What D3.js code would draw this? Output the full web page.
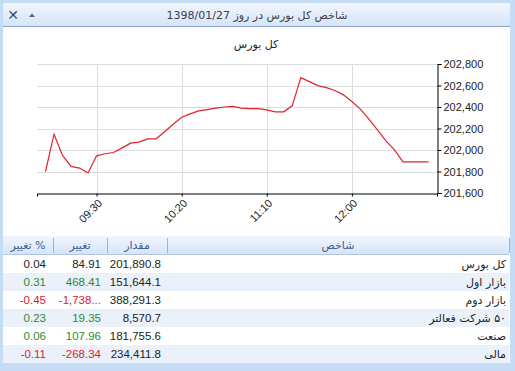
<!DOCTYPE html>
<html>
<head>
<meta charset="utf-8">
<script src="https://cdn.jsdelivr.net/npm/d3@7"></script>
<style>
  body { margin: 0; background: #c6dbf4; }
  svg { display: block; font-family: "Liberation Sans", "DejaVu Sans", sans-serif; }
</style>
</head>
<body>
<svg id="chart" width="515" height="371"></svg>
<script>
// window title and chart title
const windowTitle = "شاخص کل بورس در روز 1398/01/27";
const chartTitle = "کل بورس";

// index values every 5 minutes, 09:00 .. 12:45
const times = ["09:00","09:05","09:10","09:15","09:20","09:25","09:30","09:35","09:40","09:45",
  "09:50","09:55","10:00","10:05","10:10","10:15","10:20","10:25","10:30","10:35",
  "10:40","10:45","10:50","10:55","11:00","11:05","11:10","11:15","11:20","11:25",
  "11:30","11:35","11:40","11:45","11:50","11:55","12:00","12:05","12:10","12:15",
  "12:20","12:25","12:30","12:35","12:40","12:45"];
const values = [201800,202147,201949,201847,201832,201786,201946,201965,201977,202020,
  202064,202073,202104,202104,202170,202240,202305,202336,202364,202376,
  202389,202400,202405,202389,202385,202385,202373,202355,202355,202413,
  202673,202636,202599,202580,202553,202513,202451,202380,202287,202187,
  202085,202002,201890,201890,201890,201890];

const xTickLabels = ["09:30", "10:20", "11:10", "12:00"];
const yTicks = [201600, 201800, 202000, 202200, 202400, 202600, 202800];

// table
const columns = ["% تغییر", "تغییر", "مقدار", "شاخص"];
const names = ["کل بورس", "بازار اول", "بازار دوم", "۵۰ شرکت فعالتر", "صنعت", "مالی"];
const amounts = ["201,890.8", "151,644.1", "388,291.3", "8,570.7", "181,755.6", "234,411.8"];
const changes = ["84.91", "468.41", "-1,738...", "19.35", "107.96", "-268.34"];
const pctChanges = ["0.04", "0.31", "-0.45", "0.23", "0.06", "-0.11"];
const signs = [0, 1, -1, 1, 1, -1];

const svg = d3.select("#chart");
const parse = d3.timeParse("%H:%M");

// gradients
const defs = svg.append("defs");
const g1 = defs.append("linearGradient").attr("id", "bar").attr("x1", 0).attr("y1", 0).attr("x2", 0).attr("y2", 1);
g1.append("stop").attr("offset", "0%").attr("stop-color", "#f1f6fd");
g1.append("stop").attr("offset", "100%").attr("stop-color", "#d6e4f6");

// window frame
svg.append("rect").attr("x", 0).attr("y", 0).attr("width", 515).attr("height", 371).attr("fill", "#c6dbf4");
svg.append("rect").attr("x", 3).attr("y", 3).attr("width", 507).attr("height", 360).attr("fill", "#fff");
svg.append("rect").attr("x", 3).attr("y", 3).attr("width", 507).attr("height", 23).attr("fill", "url(#bar)");
svg.append("line").attr("x1", 3).attr("x2", 510).attr("y1", 26.5).attr("y2", 26.5).attr("stroke", "#8aa3c4");

svg.append("text")
  .attr("x", 257).attr("y", 19)
  .attr("text-anchor", "middle")
  .style("font-family", "DejaVu Sans")
  .style("font-size", "11px")
  .attr("fill", "#3a3f4a")
  .text(windowTitle);

// close and collapse buttons
svg.append("text").attr("x", 13).attr("y", 20).attr("text-anchor", "middle")
  .style("font-size", "14px").style("font-weight", "bold").attr("fill", "#2f4f7c").text("✕");
svg.append("path").attr("d", "M29,17 L32,13.5 L35,17 Z").attr("fill", "#4a6690");

// chart
const margin = { top: 64, left: 37, right: 437, bottom: 193 };
const x = d3.scaleTime()
  .domain([parse("08:55"), parse("12:50")])
  .range([margin.left, margin.right]);
const y = d3.scaleLinear()
  .domain([201600, 202800])
  .range([margin.bottom, margin.top]);

svg.append("text")
  .attr("x", 256).attr("y", 48)
  .attr("text-anchor", "middle")
  .style("font-family", "DejaVu Sans")
  .style("font-size", "11px")
  .attr("fill", "#222")
  .text(chartTitle);

// gridlines
svg.append("g").selectAll("line")
  .data(yTicks.slice(1))
  .enter().append("line")
  .attr("x1", margin.left).attr("x2", margin.right)
  .attr("y1", d => Math.round(y(d)) + 0.5).attr("y2", d => Math.round(y(d)) + 0.5)
  .attr("stroke", "#dcdcdc");
svg.append("g").selectAll("line")
  .data(xTickLabels)
  .enter().append("line")
  .attr("x1", d => Math.round(x(parse(d))) + 0.5).attr("x2", d => Math.round(x(parse(d))) + 0.5)
  .attr("y1", margin.top).attr("y2", margin.bottom)
  .attr("stroke", "#dcdcdc");

// x axis
const xAxis = svg.append("g")
  .attr("transform", `translate(0,${Math.round(margin.bottom) + 0.5})`)
  .call(d3.axisBottom(x).tickValues(xTickLabels.map(parse)).tickFormat(d3.timeFormat("%H:%M")).tickSizeOuter(0).tickSize(3));
xAxis.select(".domain").attr("stroke", "#000");
xAxis.selectAll("text")
  .style("font-size", "11px")
  .attr("fill", "#222")
  .style("text-anchor", "end")
  .attr("dx", "-0.3em")
  .attr("dy", "0.5em")
  .attr("transform", "rotate(-45)");

// y axis on the right
const yAxis = svg.append("g")
  .attr("transform", `translate(${Math.round(margin.right) + 0.5},0)`)
  .call(d3.axisRight(y).tickValues(yTicks).tickFormat(d3.format(",")).tickSizeOuter(0).tickSize(4));
yAxis.select(".domain").attr("stroke", "#000");
yAxis.selectAll("text")
  .style("font-size", "11px")
  .attr("fill", "#222")
  .attr("x", 6);

// line
const data = times.map((t, i) => ({ t: parse(t), v: values[i] }));
svg.append("path")
  .datum(data)
  .attr("fill", "none")
  .attr("stroke", "#e3222e")
  .attr("stroke-width", 1.2)
  .attr("d", d3.line().x(d => x(d.t)).y(d => y(d.v)));

// table
const colEdges = [3, 53, 107, 167, 509];
const headerY = 236, headerH = 18, rowH = 18, firstRow = 255;

svg.append("rect").attr("x", 3).attr("y", headerY).attr("width", 506).attr("height", headerH).attr("fill", "url(#bar)");
svg.append("line").attr("x1", 3).attr("x2", 509).attr("y1", headerY + headerH + 0.5).attr("y2", headerY + headerH + 0.5).attr("stroke", "#b3c6df");
svg.selectAll(".sep")
  .data(colEdges.slice(1))
  .enter().append("line")
  .attr("class", "sep")
  .attr("x1", d => d + 0.5).attr("x2", d => d + 0.5)
  .attr("y1", headerY + 2).attr("y2", headerY + headerH - 1)
  .attr("stroke", "#9fb3cf");

svg.selectAll(".colhead")
  .data(columns)
  .enter().append("text")
  .attr("class", "colhead")
  .attr("x", (d, i) => (colEdges[i] + colEdges[i + 1]) / 2)
  .attr("y", headerY + 13)
  .attr("text-anchor", "middle")
  .attr("direction", "rtl")
  .style("font-family", "DejaVu Sans")
  .style("font-size", "11px")
  .attr("fill", "#3c5d8f")
  .text(d => d);

const rows = svg.selectAll(".row")
  .data(names)
  .enter().append("g")
  .attr("class", "row")
  .attr("transform", (d, i) => `translate(0,${firstRow + i * rowH})`);

rows.append("rect")
  .attr("x", 3).attr("y", 0).attr("width", 506).attr("height", rowH)
  .attr("fill", (d, i) => i % 2 ? "#eaf1fb" : "#ffffff");

const colour = i => signs[i] > 0 ? "#2f8a2f" : signs[i] < 0 ? "#e0202c" : "#222";

rows.append("text")
  .attr("x", 46).attr("y", 13).attr("text-anchor", "end")
  .style("font-size", "11.5px").attr("fill", (d, i) => colour(i))
  .text((d, i) => pctChanges[i]);
rows.append("text")
  .attr("x", 101).attr("y", 13).attr("text-anchor", "end")
  .style("font-size", "11.5px").attr("fill", (d, i) => colour(i))
  .text((d, i) => changes[i]);
rows.append("text")
  .attr("x", 161).attr("y", 13).attr("text-anchor", "end")
  .style("font-size", "11.5px").attr("fill", "#222")
  .text((d, i) => amounts[i]);
// names are right to left, so "start" anchors them on the right
rows.append("text")
  .attr("x", 506).attr("y", 13)
  .attr("direction", "rtl")
  .attr("text-anchor", "start")
  .style("font-family", "DejaVu Sans")
  .style("font-size", "11px").attr("fill", "#222")
  .text(d => d);
</script>
</body>
</html>
